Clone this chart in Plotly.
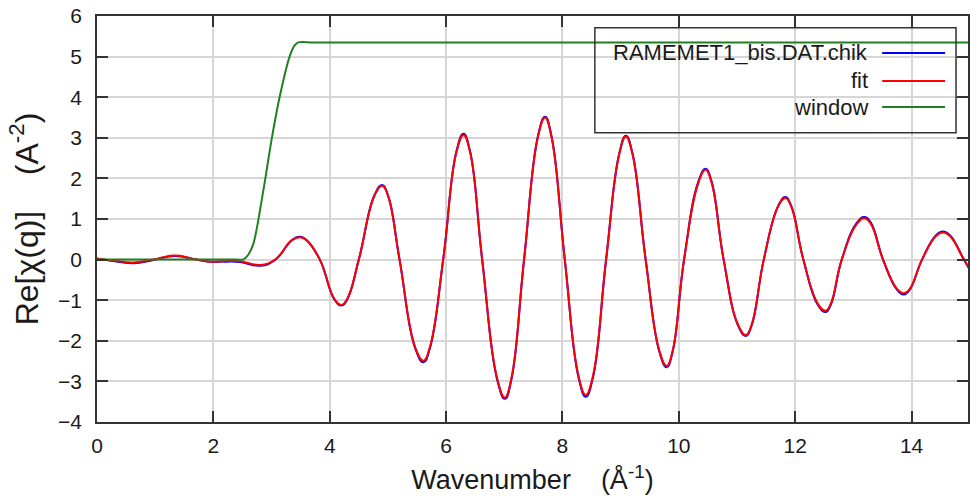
import plotly.graph_objects as go

# ---- data (knots along each curve) ----
k_knots = [0.00, 0.31, 0.63, 0.97, 1.34, 1.71, 1.94, 2.20, 2.46, 2.80, 3.06,
           3.35, 3.49, 3.60, 3.83,
           4.08, 4.20, 4.30, 4.50,
           4.77, 4.90, 5.00, 5.20,
           5.47, 5.61, 5.72, 5.95,
           6.18, 6.30, 6.41, 6.62,
           6.88, 7.01, 7.12, 7.34,
           7.58, 7.70, 7.81, 8.04,
           8.28, 8.40, 8.52, 8.75,
           8.98, 9.09, 9.20, 9.43,
           9.67, 9.79, 9.89, 10.09,
           10.34, 10.46, 10.56, 10.77,
           11.02, 11.15, 11.25, 11.46,
           11.71, 11.83, 11.93, 12.14,
           12.39, 12.52, 12.61, 12.80,
           13.06, 13.19, 13.30, 13.51,
           13.75, 13.87, 13.97, 14.18,
           14.42, 14.54, 14.66, 14.90,
           15.00]
chik = [0.02, -0.04, -0.09, -0.01, 0.09, 0.00, -0.05, -0.05, -0.06, -0.15, -0.01,
        0.48, 0.56, 0.48, 0.00,
        -0.98, -1.13, -0.98, 0.00,
        1.59, 1.84, 1.59, 0.00,
        -2.19, -2.53, -2.19, 0.00,
        2.68, 3.10, 2.68, 0.00,
        -2.97, -3.43, -2.97, 0.00,
        3.05, 3.52, 3.05, 0.00,
        -2.93, -3.38, -2.93, 0.00,
        2.64, 3.05, 2.64, 0.00,
        -2.29, -2.65, -2.29, 0.00,
        1.94, 2.24, 1.94, 0.00,
        -1.63, -1.88, -1.63, 0.00,
        1.33, 1.54, 1.33, 0.00,
        -1.12, -1.29, -1.12, 0.00,
        0.91, 1.05, 0.91, 0.00,
        -0.74, -0.86, -0.74, 0.00,
        0.60, 0.69, 0.60, 0.00,
        -0.25]
fit = [0.03, -0.03, -0.07, 0.00, 0.10, 0.00, -0.05, -0.04, -0.04, -0.13, 0.00,
       0.48, 0.55, 0.48, 0.00,
       -0.97, -1.12, -0.97, 0.00,
       1.58, 1.82, 1.58, 0.00,
       -2.16, -2.49, -2.16, 0.00,
       2.66, 3.07, 2.66, 0.00,
       -2.94, -3.40, -2.94, 0.00,
       3.03, 3.50, 3.03, 0.00,
       -2.89, -3.34, -2.89, 0.00,
       2.62, 3.03, 2.62, 0.00,
       -2.27, -2.62, -2.27, 0.00,
       1.91, 2.21, 1.91, 0.00,
       -1.61, -1.86, -1.61, 0.00,
       1.32, 1.52, 1.32, 0.00,
       -1.09, -1.26, -1.09, 0.00,
       0.88, 1.02, 0.88, 0.00,
       -0.72, -0.83, -0.72, 0.00,
       0.58, 0.67, 0.58, 0.00,
       -0.22]
win_k = [0.00, 1.00, 2.00, 2.40, 2.51, 2.60, 2.69, 2.86, 3.00, 3.14, 3.31, 3.40, 3.46, 3.70,
         4.00, 5.00, 6.00, 7.00, 8.00, 9.00, 10.00, 11.00, 12.00, 13.00, 14.00, 15.00]
window = [0.00, 0.00, 0.00, 0.00, 0.00, 0.12, 0.40, 1.71, 2.95, 4.01, 5.00, 5.28, 5.35, 5.35,
          5.35, 5.35, 5.35, 5.35, 5.35, 5.35, 5.35, 5.35, 5.35, 5.35, 5.35, 5.35]

names = ["RAMEMET1_bis.DAT.chik", "fit", "window"]
colors = ["#0000ff", "#ff0000", "#1f801f"]
x_ticks = [0, 2, 4, 6, 8, 10, 12, 14]
y_ticks = [-4, -3, -2, -1, 0, 1, 2, 3, 4, 5, 6]

W, H = 970, 504
ML, MR, MT, MB = 97, 0, 16, 82
PW, PH = W - ML - MR, H - MT - MB


def px(x):
    return (x - ML) / PW


def py(y):
    return 1 - (y - MT) / PH


fig = go.Figure()
fig.add_trace(go.Scatter(x=k_knots, y=chik, mode="lines", name=names[0],
                         line=dict(color=colors[0], width=2, shape="spline",
                                   smoothing=1.3, simplify=False)))
fig.add_trace(go.Scatter(x=k_knots, y=fit, mode="lines", name=names[1],
                         line=dict(color=colors[1], width=2, shape="spline",
                                   smoothing=1.3, simplify=False)))
fig.add_trace(go.Scatter(x=win_k, y=window, mode="lines", name=names[2],
                         line=dict(color=colors[2], width=2, shape="spline",
                                   smoothing=0.8, simplify=False)))

FONT = "Liberation Sans, Arial, sans-serif"
axis_common = dict(
    ticks="inside", ticklen=11, tickwidth=1.5, tickcolor="#333",
    showline=True, linecolor="#333", linewidth=1.5, mirror="ticks",
    showgrid=True, gridcolor="#d6d6d6", gridwidth=1.5, zeroline=False,
    tickfont=dict(family=FONT, size=21, color="#1a1a1a"),
)

fig.update_layout(
    width=W, height=H,
    margin=dict(l=ML, r=MR, t=MT, b=MB),
    paper_bgcolor="white", plot_bgcolor="white",
    showlegend=False,
    xaxis=dict(range=[0, 14.97], tickvals=x_ticks, ticklabelstandoff=4,
               title=dict(text="Wavenumber\u00a0\u00a0\u00a0\u00a0(Å<sup>-1</sup>)",
                          font=dict(family=FONT, size=27, color="#1a1a1a"), standoff=14),
               **axis_common),
    yaxis=dict(range=[-4, 6], tickvals=y_ticks, ticklabelstandoff=9,
               title=dict(text="Re[χ(q)]\u00a0\u00a0\u00a0\u00a0(A<sup>-2</sup>)\u00a0\u00a0",
                          font=dict(family=FONT, size=32, color="#1a1a1a"), standoff=10),
               **axis_common),
)

# custom legend (text right-aligned, sample line on the right)
shapes = [dict(type="rect", xref="paper", yref="paper", x0=px(596), x1=px(958),
               y0=py(132.7), y1=py(27.7), line=dict(color="#333", width=1.5),
               fillcolor="rgba(0,0,0,0)", layer="above")]
annotations = []
rows = [53, 81, 107]
for name, col, ry in zip(names, colors, rows):
    annotations.append(dict(xref="paper", yref="paper", x=px(872), y=py(ry),
                            xanchor="right", yanchor="middle", showarrow=False,
                            text=name, font=dict(family=FONT, size=22, color="#1a1a1a")))
    shapes.append(dict(type="line", xref="paper", yref="paper", x0=px(884), x1=px(947),
                       y0=py(ry), y1=py(ry), line=dict(color=col, width=2)))
fig.update_layout(shapes=shapes, annotations=annotations)

fig.write_html("out.html")
